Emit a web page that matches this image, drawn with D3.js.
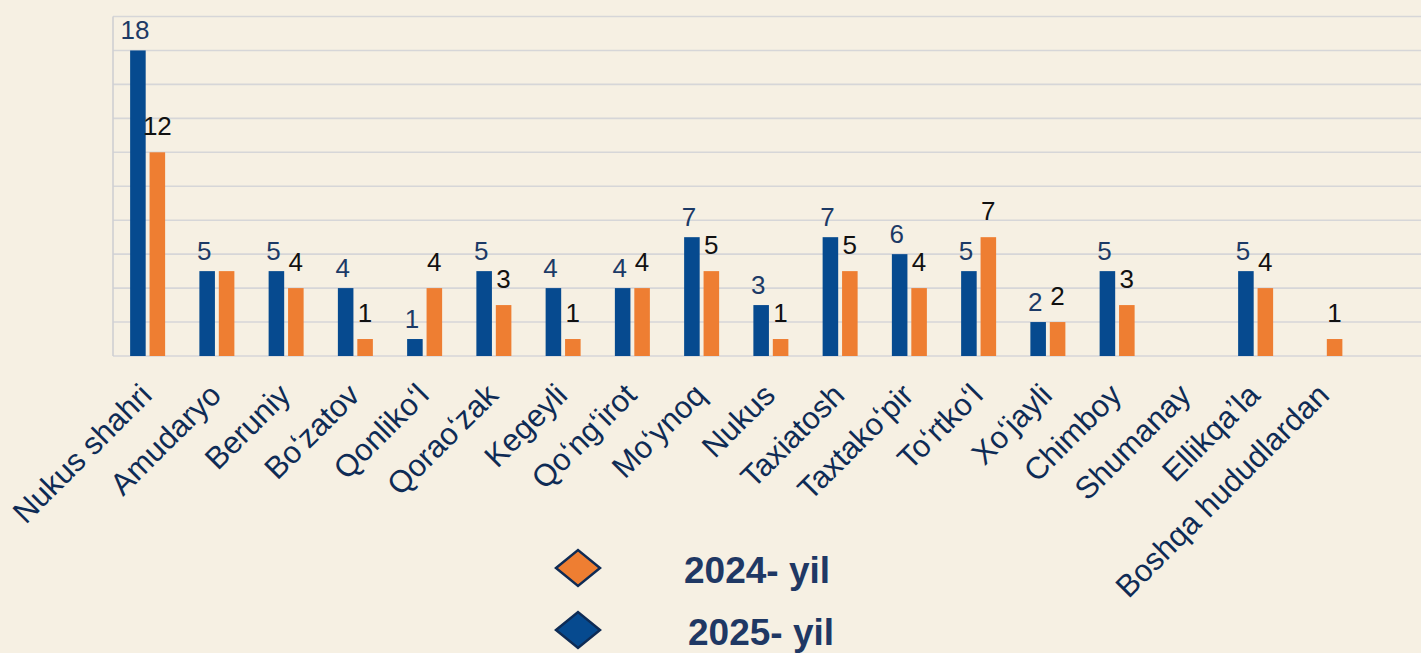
<!DOCTYPE html>
<html>
<head>
<meta charset="utf-8">
<script src="https://cdn.jsdelivr.net/npm/d3@7"></script>
<style>
  html, body { margin: 0; padding: 0; background: #f6f0e3; }
  svg { display: block; font-family: "Liberation Sans", Arial, sans-serif; }
</style>
</head>
<body>
<div id="chart"></div>
<script>
// districts (x axis)
var categories = ["Nukus shahri", "Amudaryo", "Beruniy", "Boʻzatov", "Qonlikoʻl", "Qoraoʻzak",
                  "Kegeyli", "Qoʻngʻirot", "Moʻynoq", "Nukus", "Taxiatosh", "Taxtakoʻpir",
                  "Toʻrtkoʻl", "Xoʻjayli", "Chimboy", "Shumanay", "Ellikqaʼla", "Boshqa hududlardan"];
var values2025 = [18, 5, 5, 4, 1, 5, 4, 4, 7, 3, 7, 6, 5, 2, 5, 0, 5, 0];
var values2024 = [12, 5, 4, 1, 4, 3, 1, 4, 5, 1, 5, 4, 7, 2, 3, 0, 4, 1];
var seriesNames = ["2025- yil", "2024- yil"];
var legendOrder = ["2024- yil", "2025- yil"];
var gridTicks = [0, 2, 4, 6, 8, 10, 12, 14, 16, 18, 20];
var hidden2024 = ["Amudaryo"]; // label not shown in the original

function init(){
    var w = 1421;
    var h = 653;
    var colors = {"2025- yil": "#064a8f", "2024- yil": "#ee7e32"};
    var labelColors = {"2025- yil": "#1c3a66", "2024- yil": "#111111"};

    var data = categories.map(function(c, i) {
        return {cat: c, vals: [
            {s: "2025- yil", v: values2025[i]},
            {s: "2024- yil", v: values2024[i]}
        ]};
    });

    var svg = d3.select("#chart")
                .append("svg")
                .attr("width", w)
                .attr("height", h);

    svg.append("rect").attr("width", w).attr("height", h).attr("fill", "#f6f0e3");

    var x0 = d3.scaleBand()
                .domain(categories)
                .range([113, 1359.5]);

    var x1 = d3.scaleBand()
                .domain(seriesNames)
                .range([0, 35])
                .paddingInner(0.2);

    var y = d3.scaleLinear()
                .domain([0, 20])
                .range([356, 16.5]);

    // gridlines
    svg.selectAll("line.grid")
        .data(gridTicks)
        .enter()
        .append("line")
        .attr("class", "grid")
        .attr("x1", 113)
        .attr("x2", w)
        .attr("y1", function(d) { return y(d); })
        .attr("y2", function(d) { return y(d); })
        .attr("stroke", "#d6d6d8")
        .attr("stroke-width", 1.6);

    svg.append("line")
        .attr("x1", 113).attr("x2", 113)
        .attr("y1", y(20)).attr("y2", y(0))
        .attr("stroke", "#d0d0d2")
        .attr("stroke-width", 1.6);

    var groups = svg.selectAll("g.group")
        .data(data)
        .enter()
        .append("g")
        .attr("class", "group")
        .attr("transform", function(d) {
            return "translate(" + (x0(d.cat) + x0.bandwidth() / 2 - 17.5) + ",0)";
        });

    groups.selectAll("rect")
        .data(function(d) { return d.vals; })
        .enter()
        .append("rect")
        .attr("x", function(d) { return x1(d.s); })
        .attr("y", function(d) { return y(d.v); })
        .attr("width", x1.bandwidth())
        .attr("height", function(d) { return y(0) - y(d.v); })
        .attr("fill", function(d) { return colors[d.s]; });

    groups.selectAll("text")
        .data(function(d) {
            return d.vals.filter(function(e) {
                return e.v > 0 && !(e.s == "2024- yil" && hidden2024.indexOf(d.cat) >= 0);
            });
        })
        .enter()
        .append("text")
        .text(function(d) { return d.v; })
        .attr("x", function(d) {
            return x1(d.s) + x1.bandwidth() / 2 + (d.s == "2025- yil" ? -3 : 0);
        })
        .attr("y", function(d) {
            return y(d.v) - (d.s == "2025- yil" ? 11 : 17);
        })
        .attr("text-anchor", "middle")
        .attr("fill", function(d) { return labelColors[d.s]; })
        .style("font-size", "26px");

    // category labels
    svg.selectAll("text.cat")
        .data(categories)
        .enter()
        .append("text")
        .attr("class", "cat")
        .text(function(d) { return d; })
        .attr("text-anchor", "end")
        .attr("transform", function(d) {
            return "translate(" + (x0(d) + x0.bandwidth() / 2 + 6) + ",397) rotate(-45)";
        })
        .attr("fill", "#0e2b55")
        .style("font-size", "31px");

    // legend
    var legend = svg.selectAll("g.legend")
        .data(legendOrder)
        .enter()
        .append("g")
        .attr("class", "legend")
        .attr("transform", function(d, i) {
            return "translate(578," + (568 + i * 62) + ")";
        });

    legend.append("path")
        .attr("d", "M-22,0 L0,-18 L22,0 L0,18 Z")
        .attr("fill", function(d) { return colors[d]; })
        .attr("stroke", "#0e2b55")
        .attr("stroke-width", 2.5);

    legend.append("text")
        .text(function(d) { return d; })
        .attr("x", function(d, i) { return 106 + i * 4; })
        .attr("y", 15)
        .attr("fill", "#1f3864")
        .style("font-size", "37px")
        .style("font-weight", "bold");
}
window.onload = init;
</script>
</body>
</html>
